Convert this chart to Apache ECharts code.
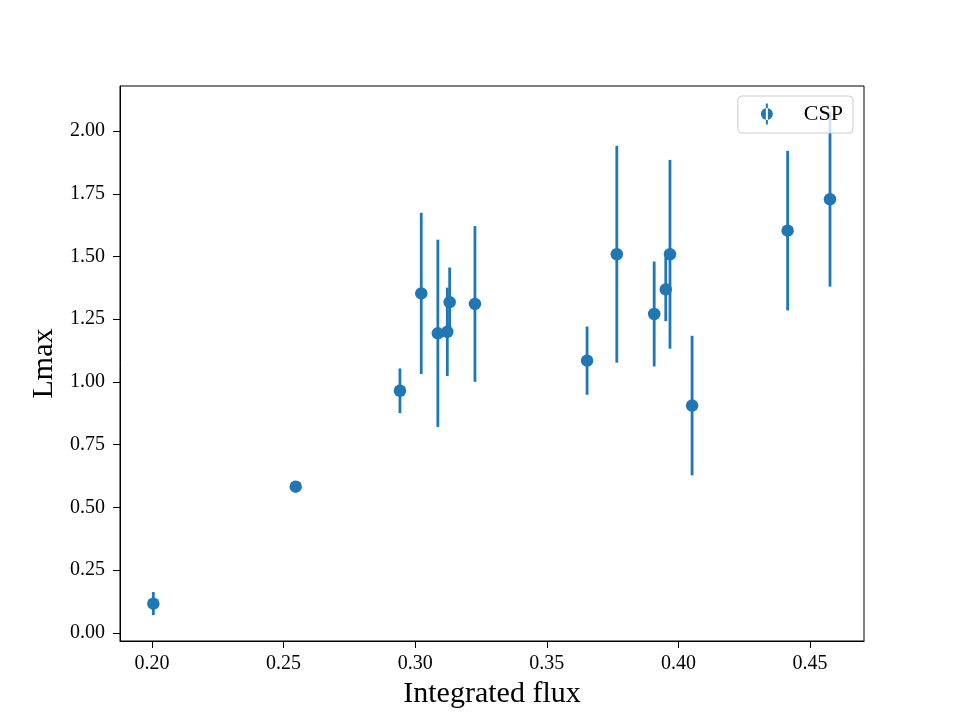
<!DOCTYPE html>
<html>
<head>
<meta charset="utf-8">
<script src="https://cdn.jsdelivr.net/npm/echarts@6/dist/echarts.min.js"></script>
<style>
  html, body { margin: 0; padding: 0; background: #fff; }
  #main { width: 960px; height: 720px; }
</style>
</head>
<body>
<div id="main"></div>
<script>
// data
const fluxValues = [0.2005, 0.2546, 0.2942, 0.3023, 0.3086, 0.3122, 0.3131, 0.3227,
                    0.3653, 0.3766, 0.3908, 0.3952, 0.3968, 0.4052, 0.4415, 0.4576];
const lmaxValues = [0.117, 0.583, 0.965, 1.353, 1.194, 1.200, 1.318, 1.311,
                    1.085, 1.509, 1.271, 1.369, 1.509, 0.906, 1.603, 1.728];
const lmaxErrors = [0.046, 0.008, 0.089, 0.321, 0.373, 0.176, 0.138, 0.310,
                    0.136, 0.432, 0.209, 0.127, 0.376, 0.278, 0.318, 0.348];
const xTicks = [0.20, 0.25, 0.30, 0.35, 0.40, 0.45];
const yTicks = [0.00, 0.25, 0.50, 0.75, 1.00, 1.25, 1.50, 1.75, 2.00];

const color = '#1f77b4';
const font = 'Liberation Serif';

var chart = echarts.init(document.getElementById('main'));

let points = fluxValues.map((x, i) => [x, lmaxValues[i]]);
let bars = fluxValues.map((x, i) => [x, lmaxValues[i] - lmaxErrors[i], lmaxValues[i] + lmaxErrors[i]]);

var option = {
    animation: false,
    grid: {
        left: 120, right: 96, top: 86, bottom: 79,
        show: true, borderColor: '#000', borderWidth: 1,
        backgroundColor: 'transparent'
    },
    legend: {
        right: 107, top: 96,
        padding: [7, 10, 8, 23],
        backgroundColor: 'rgba(255,255,255,0.8)',
        borderColor: '#cccccc', borderWidth: 1, borderRadius: 4,
        itemWidth: 12, itemHeight: 21,
        textStyle: { fontFamily: font, fontSize: 22, lineHeight: 21, color: '#000', padding: [0, 0, 0, 26] },
        data: [{
            name: 'CSP',
            icon: 'path://M5,0h2v21h-2z M0,10.5a6,6 0 1,0 12,0a6,6 0 1,0 -12,0z',
            itemStyle: { color: color }
        }]
    },
    xAxis: {
        type: 'value',
        min: 0.18784, max: 0.47052,
        name: 'Integrated flux',
        nameLocation: 'middle', nameGap: 34,
        nameTextStyle: { fontFamily: font, fontSize: 30, color: '#000' },
        splitLine: { show: false },
        axisLine: { show: true, onZero: false, lineStyle: { color: '#000', width: 1 } },
        axisTick: { show: true, length: 7, lineStyle: { color: '#000' }, customValues: xTicks },
        axisLabel: {
            fontFamily: font, fontSize: 20, color: '#000', margin: 13,
            customValues: xTicks,
            formatter: v => v.toFixed(2)
        }
    },
    yAxis: {
        type: 'value',
        min: -0.0319, max: 2.1793,
        name: 'Lmax',
        nameLocation: 'middle', nameGap: 58,
        nameTextStyle: { fontFamily: font, fontSize: 30, color: '#000' },
        splitLine: { show: false },
        axisLine: { show: true, onZero: false, lineStyle: { color: '#000', width: 1 } },
        axisTick: { show: true, length: 7, lineStyle: { color: '#000' }, customValues: yTicks },
        axisLabel: {
            fontFamily: font, fontSize: 20, color: '#000', margin: 15,
            customValues: yTicks,
            formatter: v => v.toFixed(2)
        }
    },
    series: [
        {
            name: 'CSP',
            type: 'custom',
            data: bars,
            encode: { x: 0, y: [1, 2] },
            renderItem: function (params, api) {
                let lo = api.coord([api.value(0), api.value(1)]);
                let hi = api.coord([api.value(0), api.value(2)]);
                return {
                    type: 'line',
                    shape: { x1: lo[0], y1: lo[1], x2: hi[0], y2: hi[1] },
                    style: { stroke: color, lineWidth: 2.8 }
                };
            },
            z: 2
        },
        {
            name: 'CSP',
            type: 'scatter',
            data: points,
            symbol: 'circle',
            symbolSize: 12.5,
            itemStyle: { color: color, opacity: 1 },
            z: 3
        }
    ]
};

option && chart.setOption(option);
</script>
</body>
</html>
